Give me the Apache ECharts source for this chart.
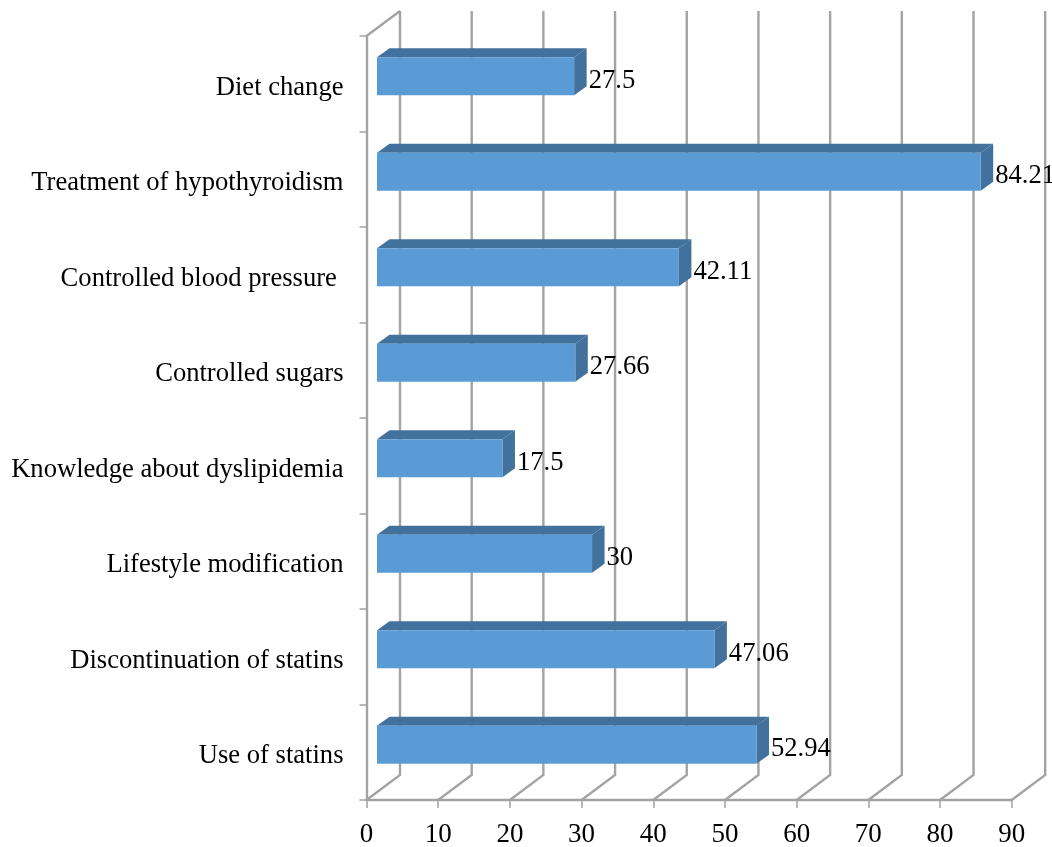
<!DOCTYPE html>
<html>
<head>
<meta charset="utf-8">
<style>html,body{margin:0;padding:0;background:#fff}#chart{width:1052px;height:847px}</style>
<script src="https://cdn.jsdelivr.net/npm/echarts@6/dist/echarts.min.js"></script>
</head>
<body>
<div id="chart"></div>
<script>
// Listed bottom to top, the order a category axis stacks them.
const categories = [
  'Use of statins',
  'Discontinuation of statins',
  'Lifestyle modification',
  'Knowledge about dyslipidemia',
  'Controlled sugars',
  'Controlled blood pressure ',
  'Treatment of hypothyroidism',
  'Diet change'
];
const percentages = [52.94, 47.06, 30, 17.5, 27.66, 42.11, 84.21, 27.5];
const axisTicks = [0, 10, 20, 30, 40, 50, 60, 70, 80, 90];

const FONT = '"Liberation Serif", "Times New Roman", serif';
const LINE = '#a3a3a3';
const FRONT = '#5b9bd5';
const SHADE = '#41719c';

// Oblique projection used for the pseudo-3D box and bars.
const WALL_DX = 33.5, WALL_DY = 25, WALL_TOP = 11;
const BAR_X = 10.5, BAR_Y = 7.5, DEPTH_X = 12.5, DEPTH_Y = 9, BAR_H = 38;

function renderGridLine(params, api) {
  const foot = api.coord([api.value(0), 0]);
  const rect = params.coordSys;
  const floorY = rect.y + rect.height;
  const backX = foot[0] + WALL_DX;
  const shape = [[foot[0], floorY], [backX, floorY - WALL_DY], [backX, WALL_TOP]];
  return { type: 'polyline', shape: { points: shape }, style: { stroke: LINE, lineWidth: 2.4, fill: null } };
}

function renderBar(params, api) {
  const value = api.value(0);
  const idx = api.value(1);
  const base = api.coord([0, idx]);
  const tip = api.coord([value, idx]);
  const x0 = base[0] + BAR_X;
  const x1 = tip[0] + BAR_X;
  const yT = base[1] - BAR_Y - BAR_H / 2;
  const yB = yT + BAR_H;
  return {
    type: 'group',
    children: [
      { type: 'polygon', shape: { points: [[x0, yT], [x0 + DEPTH_X, yT - DEPTH_Y], [x1 + DEPTH_X, yT - DEPTH_Y], [x1, yT]] }, style: { fill: SHADE } },
      { type: 'polygon', shape: { points: [[x1, yT], [x1 + DEPTH_X, yT - DEPTH_Y], [x1 + DEPTH_X, yB - DEPTH_Y], [x1, yB]] }, style: { fill: SHADE } },
      { type: 'rect', shape: { x: x0, y: yT, width: x1 - x0, height: BAR_H }, style: { fill: FRONT } },
      { type: 'text', style: { text: String(value), x: x1 + DEPTH_X + 2, y: base[1] - 3, fill: '#000', font: '26.6px ' + FONT, textAlign: 'left', textVerticalAlign: 'middle' } }
    ]
  };
}

const chart = echarts.init(document.getElementById('chart'), null, { renderer: 'canvas' });
chart.setOption({
  animation: false,
  backgroundColor: '#fff',
  grid: { left: 366.5, right: 40.3, top: 36, bottom: 47, outerBoundsMode: 'none' },
  xAxis: {
    type: 'value', min: 0, max: 90, interval: 10,
    axisLine: { show: true, lineStyle: { color: LINE, width: 2.4 } },
    axisTick: { show: true, length: 8, lineStyle: { color: LINE, width: 1.5 } },
    splitLine: { show: false },
    axisLabel: { color: '#000', fontFamily: FONT, fontSize: 27, margin: 21 }
  },
  yAxis: {
    type: 'category', data: categories,
    axisLine: { show: true, lineStyle: { color: LINE, width: 2.4 } },
    axisTick: { show: true, length: 7, alignWithLabel: false, lineStyle: { color: LINE, width: 1.5 } },
    axisLabel: { color: '#000', fontFamily: FONT, fontSize: 26.6, margin: 23, interval: 0, verticalAlign: 'top', lineHeight: 8 }
  },
  series: [
    {
      type: 'custom', silent: true, clip: false, z: 1,
      renderItem: renderGridLine,
      encode: { x: 0 },
      data: axisTicks.map(t => [t, 0])
    },
    {
      type: 'custom', silent: true, clip: false, z: 2,
      renderItem: renderBar,
      encode: { x: 0, y: 1 },
      data: percentages.map((v, i) => [v, i])
    },
    {
      // Short slanted edge at the top of the left wall.
      type: 'custom', silent: true, clip: false, z: 1,
      renderItem: (params) => {
        const r = params.coordSys;
        return { type: 'line', shape: { x1: r.x, y1: r.y, x2: r.x + WALL_DX, y2: WALL_TOP }, style: { stroke: LINE, lineWidth: 2.4 } };
      },
      data: [[0, 0]]
    }
  ]
});
</script>
</body>
</html>
